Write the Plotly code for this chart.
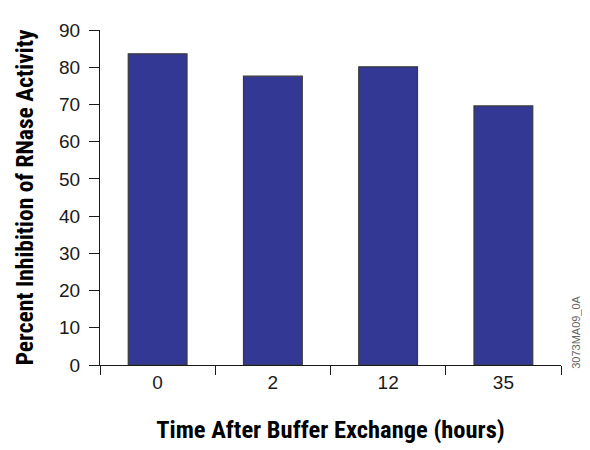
import plotly.graph_objects as go

categories = ["0", "2", "12", "35"]
values = [83.6, 77.6, 80.1, 69.6]
y_ticks = [0, 10, 20, 30, 40, 50, 60, 70, 80, 90]

title_font = "Roboto Condensed, Liberation Sans Narrow, sans-serif"
tick_font = "Liberation Sans, Arial, sans-serif"

fig = go.Figure()
fig.add_trace(go.Bar(
    x=categories, y=values,
    marker=dict(color="#333894", line=dict(color="#3a3a3a", width=1.2)),
    width=0.51,
))

# the page body has an 8px margin, so the figure is 8px smaller than the window
fig.update_layout(
    width=582, height=442,
    margin=dict(l=92, r=29, t=16, b=81),
    plot_bgcolor="white", paper_bgcolor="white",
    showlegend=False,
    font=dict(family=tick_font, color="#111111"),
)
fig.update_xaxes(
    type="category",
    showline=True, linecolor="#1a1a1a", linewidth=1.3,
    ticks="outside", tickson="boundaries", ticklen=9, tickwidth=1.3, tickcolor="#1a1a1a",
    tickfont=dict(family=tick_font, size=19, color="#1a1a1a"),
    showgrid=False, zeroline=False,
    title=dict(text="<b>Time After Buffer Exchange (hours)</b>",
               font=dict(family=title_font, size=24.5, color="#000000"),
               standoff=28),
)
fig.update_yaxes(
    range=[0, 90], tickvals=y_ticks,
    showline=True, linecolor="#1a1a1a", linewidth=1.3,
    ticks="outside", ticklen=10, tickwidth=1.3, tickcolor="#1a1a1a",
    ticklabelstandoff=5,
    tickfont=dict(family=tick_font, size=19, color="#1a1a1a"),
    showgrid=False, zeroline=False,
    title=dict(text="<b>Percent Inhibition of RNase Activity</b>",
               font=dict(family=title_font, size=23.5, color="#000000"),
               standoff=18),
)
fig.add_annotation(
    text="3073MA09_0A", textangle=-90, xref="paper", yref="paper",
    x=1.0, xshift=23, y=0.096, yanchor="middle", showarrow=False,
    font=dict(family=tick_font, size=11, color="#666666"),
)

fig.write_html("out.html")
